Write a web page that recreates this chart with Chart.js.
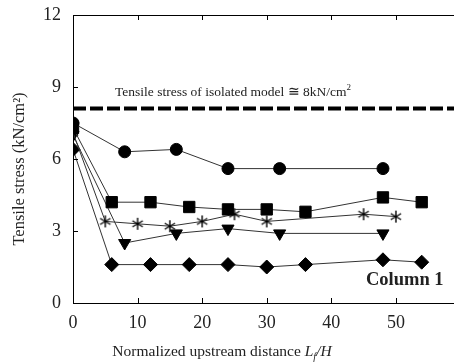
<!DOCTYPE html>
<html>
<head>
<meta charset="utf-8">
<script src="https://cdn.jsdelivr.net/npm/chart.js@4"></script>
<style>
  html, body { margin: 0; padding: 0; background: #fff; overflow: hidden; }
  canvas { display: block; }
</style>
</head>
<body>
<canvas id="grafica" width="454" height="363"></canvas>
<script>
// valores
const xCirculo = [0, 8, 16, 24, 32, 48];
const yCirculo = [7.5, 6.3, 6.4, 5.6, 5.6, 5.6];

const xCuadro = [0, 6, 12, 18, 24, 30, 36, 48, 54];
const yCuadro = [7.3, 4.2, 4.2, 4.0, 3.9, 3.9, 3.8, 4.4, 4.2];

const xEstrella = [0, 5, 10, 15, 20, 25, 30, 45, 50];
const yEstrella = [7.1, 3.4, 3.3, 3.2, 3.4, 3.7, 3.4, 3.7, 3.6];

const xTriangulo = [0, 8, 16, 24, 32, 48];
const yTriangulo = [7.0, 2.5, 2.9, 3.1, 2.9, 2.9];

const xRombo = [0, 6, 12, 18, 24, 30, 36, 48, 54];
const yRombo = [6.4, 1.6, 1.6, 1.6, 1.6, 1.5, 1.6, 1.8, 1.7];

const xAislado = [0, 59];
const yAislado = [8.1, 8.1];

const ticksX = [0, 10, 20, 30, 40, 50];
const ticksY = [0, 3, 6, 9, 12];

const puntos = (xs, ys) => xs.map((x, i) => ({ x: x, y: ys[i] }));

const serie = (xs, ys, estilo, extra) => Object.assign({
    data: puntos(xs, ys),
    borderColor: '#333',
    borderWidth: 1,
    pointStyle: estilo,
    pointBackgroundColor: '#000',
    pointBorderColor: '#000',
    pointBorderWidth: 1,
    pointRadius: 6,
    tension: 0
}, extra || {});

const fuente = '"Liberation Serif"';

// asterisco de 6 brazos como en la figura
const asterisco = document.createElement('canvas');
asterisco.width = 14;
asterisco.height = 14;
(function () {
    const c = asterisco.getContext('2d');
    c.strokeStyle = '#000';
    c.lineWidth = 1.4;
    c.beginPath();
    [90, 30, 150].forEach(g => {
        const r = g * Math.PI / 180;
        const dx = Math.cos(r) * 6, dy = Math.sin(r) * 6;
        c.moveTo(7 - dx, 7 - dy);
        c.lineTo(7 + dx, 7 + dy);
    });
    c.stroke();
})();

// ticks hacia adentro, borde superior y textos
const extras = {
    id: 'extras',
    afterDraw(chart) {
        const ctx = chart.ctx;
        const xs = chart.scales.x, ys = chart.scales.y;
        const a = chart.chartArea;
        ctx.save();
        ctx.strokeStyle = '#000';
        ctx.lineWidth = 1;
        ctx.beginPath();
        ctx.moveTo(a.left, a.top + 0.5);
        ctx.lineTo(a.right, a.top + 0.5);
        ticksX.forEach(v => {
            const px = Math.round(xs.getPixelForValue(v)) + 0.5;
            ctx.moveTo(px, a.bottom); ctx.lineTo(px, a.bottom - 5);
            ctx.moveTo(px, a.top); ctx.lineTo(px, a.top + 5);
        });
        ticksY.forEach(v => {
            const py = Math.round(ys.getPixelForValue(v)) + 0.5;
            ctx.moveTo(a.left, py); ctx.lineTo(a.left + 5, py);
        });
        ctx.stroke();

        ctx.fillStyle = '#222';
        ctx.textBaseline = 'alphabetic';
        ctx.textAlign = 'left';

        // nota de la linea discontinua
        ctx.font = '13.5px ' + fuente;
        const t = 'Tensile stress of isolated model \u2245 8kN/cm';
        const tx = 115, ty = 96;
        ctx.fillText(t, tx, ty);
        const w = ctx.measureText(t).width;
        ctx.font = '9px ' + fuente;
        ctx.fillText('2', tx + w, ty - 6);

        ctx.font = 'bold 18.5px ' + fuente;
        ctx.fillText('Column 1', 366, 285);

        // titulo eje x con L_f/H en cursiva
        const partes = [
            { s: 'Normalized upstream distance ', f: '15.5px ' + fuente, dy: 0 },
            { s: 'L', f: 'italic 15.5px ' + fuente, dy: 0 },
            { s: 'f', f: 'italic 10px ' + fuente, dy: 4 },
            { s: '/H', f: 'italic 15.5px ' + fuente, dy: 0 }
        ];
        let total = 0;
        partes.forEach(p => { ctx.font = p.f; total += ctx.measureText(p.s).width; });
        let px = 221 - total / 2 + 1;
        const by = 356;
        partes.forEach(p => {
            ctx.font = p.f;
            ctx.fillText(p.s, px, by + p.dy);
            px += ctx.measureText(p.s).width;
        });

        // titulo eje y
        ctx.translate(24, 169);
        ctx.rotate(-Math.PI / 2);
        ctx.textAlign = 'center';
        ctx.font = '16.5px ' + fuente;
        ctx.fillText('Tensile stress (kN/cm\u00b2)', 0, 0);
        ctx.restore();
    }
};

new Chart(document.getElementById('grafica'), {
    type: 'line',
    data: {
        datasets: [
            serie(xCirculo, yCirculo, 'circle'),
            serie(xCuadro, yCuadro, 'rect', { pointRadius: 8 }),
            serie(xEstrella, yEstrella, asterisco, { pointRadius: 6 }),
            serie(xTriangulo, yTriangulo, 'triangle', { pointRadius: 7, pointRotation: 180 }),
            serie(xRombo, yRombo, 'rectRot', { pointRadius: 7 }),
            {
                data: puntos(xAislado, yAislado),
                borderColor: '#000',
                borderWidth: 4,
                borderDash: [13, 4],
                pointRadius: 0
            }
        ]
    },
    options: {
        responsive: false,
        animation: false,
        layout: { autoPadding: false, padding: { top: 15, right: 0, left: 0, bottom: 0 } },
        plugins: { legend: { display: false }, tooltip: { enabled: false } },
        scales: {
            x: {
                type: 'linear',
                min: 0,
                max: 59,
                afterBuildTicks: s => { s.ticks = ticksX.map(v => ({ value: v })); },
                afterFit: s => { s.height = 60; s.paddingLeft = 0; s.paddingRight = 0; },
                grid: { display: false },
                border: { display: true, color: '#000', width: 1 },
                ticks: {
                    color: '#222',
                    font: { family: 'Liberation Serif', size: 18 },
                    padding: 1
                }
            },
            y: {
                min: 0,
                max: 12,
                afterBuildTicks: s => { s.ticks = ticksY.map(v => ({ value: v })); },
                afterFit: s => { s.width = 73; s.paddingTop = 0; s.paddingBottom = 0; },
                grid: { display: false },
                border: { display: true, color: '#000', width: 1 },
                ticks: {
                    color: '#222',
                    font: { family: 'Liberation Serif', size: 18 },
                    padding: 4
                }
            }
        }
    },
    plugins: [extras]
});
</script>
</body>
</html>
